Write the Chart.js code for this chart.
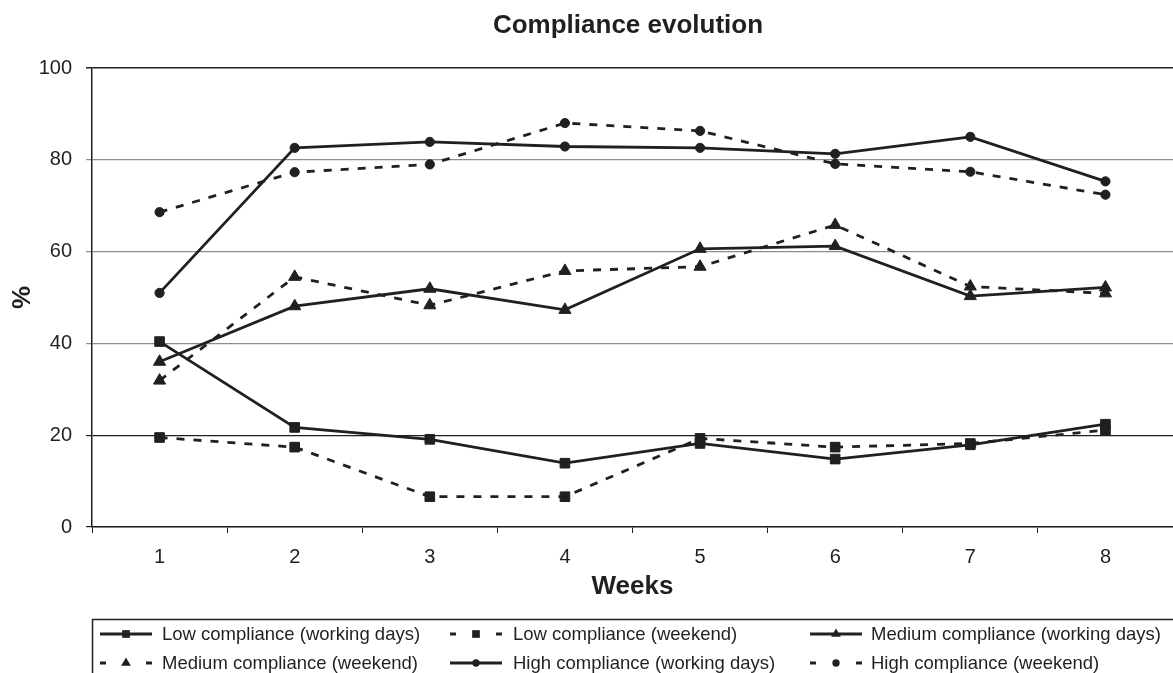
<!DOCTYPE html>
<html>
<head>
<meta charset="utf-8">
<script src="https://cdn.jsdelivr.net/npm/chart.js@4.4.1/dist/chart.umd.min.js"></script>
<style>
  html, body { margin: 0; padding: 0; background: #ffffff; }
  #wrap { width: 1173px; height: 673px; position: relative; }
</style>
</head>
<body>
<div id="wrap"><canvas id="c"></canvas></div>
<script>
// ---- data ----
const TITLE = 'Compliance evolution';
const X_TITLE = 'Weeks';
const Y_TITLE = '%';
const weeks = ['1', '2', '3', '4', '5', '6', '7', '8'];
const seriesLabels = [
  'Low compliance (working days)',
  'Low compliance (weekend)',
  'Medium compliance (working days)',
  'Medium compliance (weekend)',
  'High compliance (working days)',
  'High compliance (weekend)'
];
const lowWorking    = [40.4, 21.7, 19.1, 13.9, 18.2, 14.8, 17.9, 22.4];
const lowWeekend    = [19.5, 17.4, 6.6, 6.6, 19.3, 17.4, 18.2, 21.1];
const mediumWorking = [36.0, 48.1, 51.9, 47.3, 60.6, 61.2, 50.3, 52.2];
const mediumWeekend = [31.9, 54.5, 48.3, 55.8, 56.7, 65.8, 52.4, 50.9];
const highWorking   = [51.0, 82.6, 83.9, 82.9, 82.6, 81.3, 85.0, 75.3];
const highWeekend   = [68.6, 77.3, 79.0, 88.0, 86.3, 79.1, 77.4, 72.4];
const yTicks = [0, 20, 40, 60, 80, 100];

// ---- styles ----
const INK = '#231f20';
const GRID = '#8c8c8c';
const FONT = '"Liberation Sans", Arial, Helvetica, sans-serif';
const DASH = [8, 9];

function makeDs(label, data, style, radius, dashed) {
  return {
    label, data,
    borderColor: INK, backgroundColor: INK,
    borderWidth: 2.8,
    borderDash: dashed ? DASH : [],
    tension: 0,
    pointStyle: style,
    pointRadius: radius,
    pointHoverRadius: radius,
    pointBackgroundColor: INK,
    pointBorderColor: INK,
    pointBorderWidth: 1,
    fill: false
  };
}

const datasets = [
  makeDs(seriesLabels[0], lowWorking, 'rect', 6.8, false),
  makeDs(seriesLabels[1], lowWeekend, 'rect', 6.8, true),
  makeDs(seriesLabels[2], mediumWorking, 'triangle', 7, false),
  makeDs(seriesLabels[3], mediumWeekend, 'triangle', 7, true),
  makeDs(seriesLabels[4], highWorking, 'circle', 4.6, false),
  makeDs(seriesLabels[5], highWeekend, 'circle', 4.6, true)
];

function drawMarker(ctx, style, x, y, r) {
  ctx.beginPath();
  if (style === 'rect') {
    const s = r * Math.SQRT1_2;
    ctx.rect(x - s, y - s, 2 * s, 2 * s);
  } else if (style === 'triangle') {
    const a = -Math.PI / 2;
    for (let k = 0; k < 3; k++) {
      const t = a + k * 2 * Math.PI / 3;
      const px = x + Math.cos(t) * r, py = y + Math.sin(t) * r;
      if (k === 0) ctx.moveTo(px, py); else ctx.lineTo(px, py);
    }
    ctx.closePath();
  } else {
    ctx.arc(x, y, r, 0, Math.PI * 2);
  }
  ctx.fill();
}

const LEG_X = [100, 450, 810];
const LEG_TX = [162, 513, 871];
const LEG_Y = [634, 663];
const LEG_L = 52;

const decor = {
  id: 'decor',
  afterDraw(chart) {
    const ctx = chart.ctx;
    ctx.save();
    // title
    ctx.fillStyle = INK;
    ctx.font = 'bold 26px ' + FONT;
    ctx.textAlign = 'center';
    ctx.textBaseline = 'alphabetic';
    ctx.fillText(TITLE, 628, 33);
    // legend frame
    ctx.strokeStyle = INK;
    ctx.lineWidth = 1.5;
    ctx.setLineDash([]);
    ctx.beginPath();
    ctx.moveTo(92.5, 690);
    ctx.lineTo(92.5, 619.5);
    ctx.lineTo(1190, 619.5);
    ctx.stroke();
    // legend items
    chart.data.datasets.forEach((ds, i) => {
      const col = i % 3, row = Math.floor(i / 3);
      const x0 = LEG_X[col], y = LEG_Y[row];
      ctx.strokeStyle = ds.borderColor;
      ctx.fillStyle = ds.pointBackgroundColor;
      ctx.lineWidth = ds.borderWidth;
      ctx.setLineDash([]);
      ctx.beginPath();
      if (ds.borderDash && ds.borderDash.length) {
        ctx.moveTo(x0, y); ctx.lineTo(x0 + 6, y);
        ctx.moveTo(x0 + LEG_L - 6, y); ctx.lineTo(x0 + LEG_L, y);
      } else {
        ctx.moveTo(x0, y); ctx.lineTo(x0 + LEG_L, y);
      }
      ctx.stroke();
      drawMarker(ctx, ds.pointStyle, x0 + LEG_L / 2, y, ds.pointRadius * 0.8);
      ctx.fillStyle = INK;
      ctx.font = '18.5px ' + FONT;
      ctx.textAlign = 'left';
      ctx.textBaseline = 'middle';
      ctx.fillText(ds.label, LEG_TX[col], y + 1);
    });
    ctx.restore();
  }
};

new Chart(document.getElementById('c'), {
  type: 'line',
  data: { labels: weeks, datasets },
  plugins: [decor],
  options: {
    responsive: true,
    maintainAspectRatio: false,
    animation: false,
    layout: { autoPadding: false, padding: { top: 68, left: 0, right: 0, bottom: 54 } },
    plugins: {
      legend: { display: false },
      title: { display: false },
      tooltip: { enabled: false }
    },
    scales: {
      x: {
        type: 'category',
        offset: true,
        afterFit: (s) => { s.height = 92; s.paddingLeft = 0; s.paddingRight = 0; },
        grid: {
          offset: true,
          drawOnChartArea: false,
          drawTicks: true,
          tickLength: 6,
          tickColor: INK,
          tickWidth: 1
        },
        border: { display: true, color: INK, width: 1.5 },
        ticks: {
          color: INK,
          padding: 12,
          font: { family: FONT, size: 20 },
          maxRotation: 0
        },
        title: {
          display: true,
          text: X_TITLE,
          color: INK,
          font: { family: FONT, size: 26, weight: 'bold' },
          padding: { top: 0, bottom: 17 }
        }
      },
      y: {
        min: 0,
        max: 100,
        afterFit: (s) => { s.width = 92; s.paddingTop = 0; s.paddingBottom = 0; },
        afterBuildTicks: (s) => { s.ticks = yTicks.map(v => ({ value: v })); },
        grid: {
          drawOnChartArea: true,
          drawTicks: true,
          tickLength: 6,
          color: (c) => (c.tick && (c.tick.value === 20 || c.tick.value === 100)) ? INK : GRID,
          lineWidth: (c) => (c.tick && c.tick.value === 100) ? 1.5 : 1.2,
          tickColor: (c) => (c.tick && (c.tick.value === 20 || c.tick.value === 100 || c.tick.value === 0)) ? INK : GRID
        },
        border: { display: true, color: INK, width: 1.5 },
        ticks: {
          color: INK,
          padding: 14,
          font: { family: FONT, size: 20 }
        },
        title: {
          display: true,
          text: Y_TITLE,
          color: INK,
          font: { family: FONT, size: 26, weight: 'bold' },
          padding: { top: 7, bottom: 0 }
        }
      }
    }
  }
});
</script>
</body>
</html>
